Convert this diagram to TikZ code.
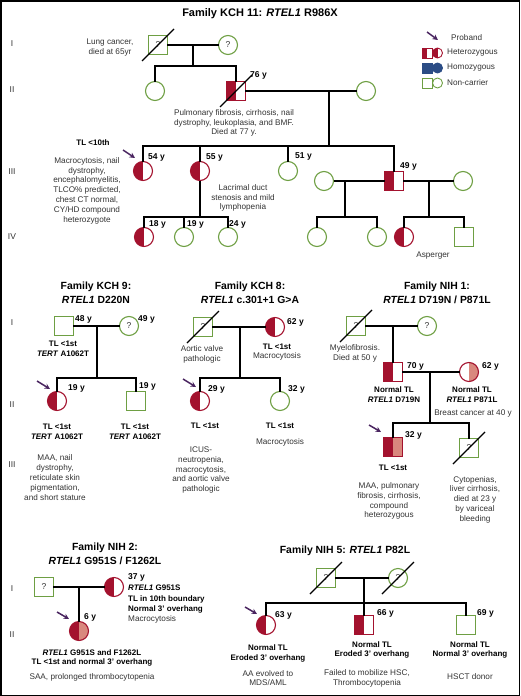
\documentclass[tikz,border=0pt]{standalone}
\usepackage{fontspec}
\setmainfont{Liberation Sans}
\usetikzlibrary{arrows.meta}
\definecolor{hred}{HTML}{A3122E}
\definecolor{ngreen}{HTML}{6E9F43}
\definecolor{salmon}{HTML}{D9887E}
\definecolor{hblue}{HTML}{2B4C85}
\definecolor{pband}{HTML}{4A2560}
\definecolor{tgray}{HTML}{333333}
\newcommand\deadmark[1]{\draw[slash] (#1.center) ++(-16,16) -- ++(32,-32);}
\begin{document}
\begin{tikzpicture}[x=1pt,y=-1pt,
 conn/.style={line width=1.1pt, black},
 slash/.style={line width=1.1pt, black},
 proband/.style={line width=1.5pt, pband, -{Stealth[length=5.5pt,width=5.5pt]}},
 sym/.style={minimum size=19pt, inner sep=0pt, outer sep=0pt, line width=1.1pt, font=\fontsize{8.5}{8.5}\selectfont, text=tgray},
 nsq/.style={sym, rectangle, minimum size=18.5pt, draw=ngreen},
 nci/.style={sym, circle, draw=ngreen},
 hsq/.style={sym, rectangle, minimum size=18.5pt, draw=hred, path picture={\fill[hred] (path picture bounding box.south west) rectangle (path picture bounding box.north);}},
 hci/.style={sym, circle, draw=hred, path picture={\fill[hred] (path picture bounding box.south west) rectangle (path picture bounding box.north);}},
 csq/.style={sym, rectangle, minimum size=18.5pt, draw=hred, path picture={\fill[hred] (path picture bounding box.south west) rectangle (path picture bounding box.north);\fill[salmon] (path picture bounding box.south) rectangle (path picture bounding box.north east);}},
 cci/.style={sym, circle, draw=hred, path picture={\fill[hred] (path picture bounding box.south west) rectangle (path picture bounding box.north);\fill[salmon] (path picture bounding box.south) rectangle (path picture bounding box.north east);}},
 sci/.style={sym, circle, draw=hred, path picture={\fill[salmon] (path picture bounding box.south) rectangle (path picture bounding box.north east);}},
 small/.style={minimum size=10pt, line width=0.9pt},
 txt/.style={font=\fontsize{8.2}{9.8}\selectfont, text=tgray, align=center, inner sep=0pt},
 btxt/.style={font=\fontsize{8}{9.8}\selectfont\bfseries, text=black, align=center, inner sep=0pt},
 age/.style={font=\fontsize{8.5}{9.8}\selectfont\bfseries, text=black, inner sep=0pt, anchor=west},
 ttl/.style={font=\fontsize{10.4}{13.8}\selectfont\bfseries, align=center, inner sep=0pt},
 gen/.style={font=\fontsize{8.5}{8.5}\selectfont, text=tgray, inner sep=0pt}
]
\useasboundingbox (0,0) rectangle (520,696);
\draw[line width=1.5pt] (0.75,0.75) rectangle (519.25,695.25);

% ================= Family KCH 11
\node[ttl, font=\fontsize{11}{13}\selectfont\bfseries] (tk11) at (260,14) {Family KCH 11: \textit{RTEL1} R986X};
\node[gen] (gk1) at (12,44) {I};
\node[gen] (gk2) at (12,90) {II};
\node[gen] (gk3) at (12,172) {III};
\node[gen] (gk4) at (12,237) {IV};

\node[nsq] (a1) at (158,45) {?}; \deadmark{a1}
\node[nci] (a2) at (228,45) {?};
\coordinate (am1) at (193,45); \coordinate (as1) at (193,66);
\draw[conn] (a1) -- (a2);
\draw[conn] (am1) -- (as1);
\node[nci] (a3) at (155,91) {};
\node[hsq] (a4) at (236,91) {}; \deadmark{a4}
\node[nci] (a5) at (366,91) {};
\draw[conn] (a3.north) |- (as1) -| (a4.north);
\draw[conn] (a4) -- (a5);
\coordinate (am2) at (329,91); \coordinate (as2) at (329,146);
\draw[conn] (am2) -- (as2);

\node[hci] (a6) at (143,171) {};
\node[hci] (a7) at (200,171) {};
\node[nci] (a8) at (288,171) {};
\node[nci] (a9) at (324,181) {};
\node[hsq] (a10) at (394,181) {};
\node[nci] (a11) at (463,181) {};
\draw[conn] (a6.north) |- (as2) -| (a10.north);
\draw[conn] (a7.north) -- (a7.north |- as2);
\draw[conn] (a8.north) -- (a8.north |- as2);
\draw[conn] (a9) -- (a10);
\draw[conn] (a10) -- (a11);

\coordinate (as3) at (200,217);
\draw[conn] (a7.south) -- (as3);
\node[hci] (a12) at (144,237) {};
\node[nci] (a13) at (184,237) {};
\node[nci] (a14) at (228,237) {};
\draw[conn] (a12.north) |- (as3) -| (a14.north);
\draw[conn] (a13.north) -- (a13.north |- as3);

\coordinate (am4) at (345,181); \coordinate (as4) at (345,217);
\draw[conn] (am4) -- (as4);
\node[nci] (a15) at (317,237) {};
\node[nci] (a16) at (377,237) {};
\draw[conn] (a15.north) |- (as4) -| (a16.north);

\coordinate (am5) at (429,181); \coordinate (as5) at (429,217);
\draw[conn] (am5) -- (as5);
\node[hci] (a17) at (404,237) {};
\node[nsq] (a18) at (464,237) {};
\draw[conn] (a17.north) |- (as5) -| (a18.north);

\node[txt] (ka1) at (110,47.5) {Lung cancer,\\died at 65yr};
\node[age] (ka2) at (250,75) {76 y};
\node[txt] (ka3) at (234,123) {Pulmonary fibrosis, cirrhosis, nail\\dystrophy, leukoplasia, and BMF.\\Died at 77 y.};
\node[btxt] (ka4) at (93,143) {TL <10th};
\node[txt] (ka5) at (87,190.5) {Macrocytosis, nail\\dystrophy,\\encephalomyelitis,\\TLCO\% predicted,\\chest CT normal,\\CY/HD compound\\heterozygote};
\node[age] (ka6) at (148,157) {54 y};
\node[age] (ka7) at (206,157) {55 y};
\node[age] (ka8) at (295,156) {51 y};
\node[age] (ka9) at (400,166) {49 y};
\node[txt] (ka10) at (243,198) {Lacrimal duct\\stenosis and mild\\lymphopenia};
\node[age] (ka11) at (149,224) {18 y};
\node[age] (ka12) at (187,224) {19 y};
\node[age] (ka13) at (229,224) {24 y};
\node[txt] (ka14) at (433,256) {Asperger};
\coordinate (pk1s) at (123,150); \coordinate (pk1e) at (135,158);
\draw[proband] (pk1s) -- (pk1e);

% ================= Legend
\coordinate (pls) at (427,32); \coordinate (ple) at (438,40);
\draw[proband] (pls) -- (ple);
\node[txt, anchor=west] (l1) at (451,38) {Proband};
\node[hsq, small] (l2a) at (427,53) {};
\node[hci, small] (l2b) at (437.5,53) {};
\node[txt, anchor=west] (l2) at (447,53) {Heterozygous};
\node[sym, small, rectangle, fill=hblue, draw=hblue] (l3a) at (427,68) {};
\node[sym, small, circle, fill=hblue, draw=hblue] (l3b) at (437.5,68) {};
\node[txt, anchor=west] (l3) at (447,68) {Homozygous};
\node[nsq, small] (l4a) at (427,83) {};
\node[nci, small] (l4b) at (437.5,83) {};
\node[txt, anchor=west] (l4) at (447,83) {Non-carrier};

% ================= Family KCH 9
\node[ttl] (tk9) at (96,293) {Family KCH 9:\\\textit{RTEL1} D220N};
\node[gen] (gb1) at (12,323) {I};
\node[gen] (gb2) at (12,405) {II};
\node[gen] (gb3) at (12,465) {III};
\node[nsq] (b1) at (64,326) {};
\node[nci] (b2) at (129,326) {?};
\draw[conn] (b1) -- (b2);
\coordinate (bm) at (97,326); \coordinate (bs) at (97,378);
\draw[conn] (bm) -- (bs);
\node[hci] (b3) at (57,401) {};
\node[nsq] (b4) at (136,401) {};
\draw[conn] (b3.north) |- (bs) -| (b4.north);
\node[age] (kb1) at (75,319) {48 y};
\node[age] (kb2) at (138,319) {49 y};
\node[btxt] (kb3) at (63,349) {TL <1st\\\textit{TERT} A1062T};
\node[age] (kb4) at (68,388) {19 y};
\node[age] (kb5) at (139,386) {19 y};
\node[btxt] (kb6) at (57,432) {TL <1st\\\textit{TERT} A1062T};
\node[btxt] (kb7) at (135,432) {TL <1st\\\textit{TERT} A1062T};
\node[txt] (kb8) at (55,477.5) {MAA, nail\\dystrophy,\\reticulate skin\\pigmentation,\\and short stature};
\coordinate (pk9s) at (37,381); \coordinate (pk9e) at (50,389);
\draw[proband] (pk9s) -- (pk9e);

% ================= Family KCH 8
\node[ttl] (tk8) at (250,293) {Family KCH 8:\\\textit{RTEL1} c.301+1 G>A};
\node[nsq] (c1) at (203,327) {?}; \deadmark{c1}
\node[hci] (c2) at (275,327) {};
\draw[conn] (c1) -- (c2);
\coordinate (cm) at (240,327); \coordinate (cs) at (240,378);
\draw[conn] (cm) -- (cs);
\node[hci] (c3) at (200,401) {};
\node[nci] (c4) at (280,401) {};
\draw[conn] (c3.north) |- (cs) -| (c4.north);
\node[age] (kc1) at (287,322) {62 y};
\node[txt] (kc2) at (202,354) {Aortic valve\\pathologic};
\node[txt] (kc3) at (277,352) {\textbf{\color{black}\fontsize{8}{9.8}\selectfont TL <1st}\\Macrocytosis};
\node[age] (kc4) at (208,389) {29 y};
\node[age] (kc5) at (288,389) {32 y};
\node[btxt] (kc6) at (205,426) {TL <1st};
\node[btxt] (kc7) at (280,426) {TL <1st};
\node[txt] (kc8) at (280,442) {Macrocytosis};
\node[txt] (kc9) at (201,470) {ICUS-\\neutropenia,\\macrocytosis,\\and aortic valve\\pathologic};
\coordinate (pk8s) at (183,379); \coordinate (pk8e) at (196,387);
\draw[proband] (pk8s) -- (pk8e);

% ================= Family NIH 1
\node[ttl] (tn1) at (437,293) {Family NIH 1:\\\textit{RTEL1} D719N / P871L};
\node[nsq] (d1) at (356,326) {?}; \deadmark{d1}
\node[nci] (d2) at (427,326) {?};
\draw[conn] (d1) -- (d2);
\coordinate (dm1) at (393,326);
\node[hsq] (d3) at (393,372) {};
\node[sci] (d4) at (469,372) {};
\draw[conn] (dm1) -- (d3.north);
\draw[conn] (d3) -- (d4);
\coordinate (dm2) at (430,372); \coordinate (ds2) at (430,423);
\draw[conn] (dm2) -- (ds2);
\node[csq] (d5) at (393,447) {};
\node[nsq] (d6) at (469,448) {?}; \deadmark{d6}
\draw[conn] (d5.north) |- (ds2) -| (d6.north);
\node[txt] (kd1) at (355,353.5) {Myelofibrosis.\\Died at 50 y};
\node[age] (kd2) at (407,366) {70 y};
\node[age] (kd3) at (482,366) {62 y};
\node[btxt] (kd4) at (394,395) {Normal TL\\\textit{RTEL1} D719N};
\node[btxt] (kd5) at (472,395) {Normal TL\\\textit{RTEL1} P871L};
\node[txt] (kd6) at (473,413) {Breast cancer at 40 y};
\node[age] (kd7) at (405,435) {32 y};
\node[btxt] (kd8) at (393,468) {TL <1st};
\node[txt] (kd9) at (389,501) {MAA, pulmonary\\fibrosis, cirrhosis,\\compound\\heterozygous};
\node[txt] (kd10) at (475,499.5) {Cytopenias,\\liver cirrhosis,\\died at 23 y\\by variceal\\bleeding};
\coordinate (pn1s) at (369,425); \coordinate (pn1e) at (381,432);
\draw[proband] (pn1s) -- (pn1e);

% ================= Family NIH 2
\node[ttl] (tn2) at (105,553.5) {Family NIH 2:\\\textit{RTEL1} G951S / F1262L};
\node[gen] (ge1) at (12,589) {I};
\node[gen] (ge2) at (12,635) {II};
\node[nsq] (e1) at (44,587) {?};
\node[hci] (e2) at (114,587) {};
\draw[conn] (e1) -- (e2);
\coordinate (em) at (79,587);
\node[cci] (e3) at (79,631) {};
\draw[conn] (em) -- (e3.north);
\node[age] (ke1) at (128,577) {37 y};
\node[txt, align=left, anchor=west, font=\fontsize{8.2}{10.3}\selectfont] (ke2) at (128,604.5) {{\bfseries\color{black}\fontsize{8}{10.3}\selectfont\textit{RTEL1} G951S}\\{\bfseries\color{black}\fontsize{8}{10.3}\selectfont TL in 10th boundary}\\{\bfseries\color{black}\fontsize{8}{10.3}\selectfont Normal 3' overhang}\\Macrocytosis};
\node[age] (ke3) at (84,617) {6 y};
\node[btxt] (ke4) at (92,658) {\textit{RTEL1} G951S and F1262L\\TL <1st and normal 3' overhang};
\node[txt] (ke5) at (92,677) {SAA, prolonged thrombocytopenia};
\coordinate (pn2s) at (57,612); \coordinate (pn2e) at (69,619);
\draw[proband] (pn2s) -- (pn2e);

% ================= Family NIH 5
\node[ttl] (tn5) at (345,551) {Family NIH 5: \textit{RTEL1} P82L};
\node[nsq] (f1) at (326,578) {?}; \deadmark{f1}
\node[nci] (f2) at (398,578) {?}; \deadmark{f2}
\draw[conn] (f1) -- (f2);
\coordinate (fm) at (364,578); \coordinate (fs) at (364,603);
\draw[conn] (fm) -- (fs);
\node[hci] (f3) at (266,625) {};
\node[hsq] (f4) at (364,625) {};
\node[nsq] (f5) at (466,625) {};
\draw[conn] (f3.north) |- (fs) -| (f5.north);
\draw[conn] (f4.north) -- (f4.north |- fs);
\node[age] (kf1) at (275,615) {63 y};
\node[age] (kf2) at (377,613) {66 y};
\node[age] (kf3) at (477,613) {69 y};
\node[btxt] (kf4) at (268,653.5) {Normal TL\\Eroded 3' overhang};
\node[txt] (kf5) at (268,678) {AA evolved to\\MDS/AML};
\node[btxt] (kf6) at (372,650) {Normal TL\\Eroded 3' overhang};
\node[txt] (kf7) at (367,678) {Failed to mobilize HSC,\\Thrombocytopenia};
\node[btxt] (kf8) at (470,650) {Normal TL\\Normal 3' overhang};
\node[txt] (kf9) at (470,677) {HSCT donor};
\coordinate (pn5s) at (245,607); \coordinate (pn5e) at (257,614);
\draw[proband] (pn5s) -- (pn5e);
\end{tikzpicture}
\end{document}
